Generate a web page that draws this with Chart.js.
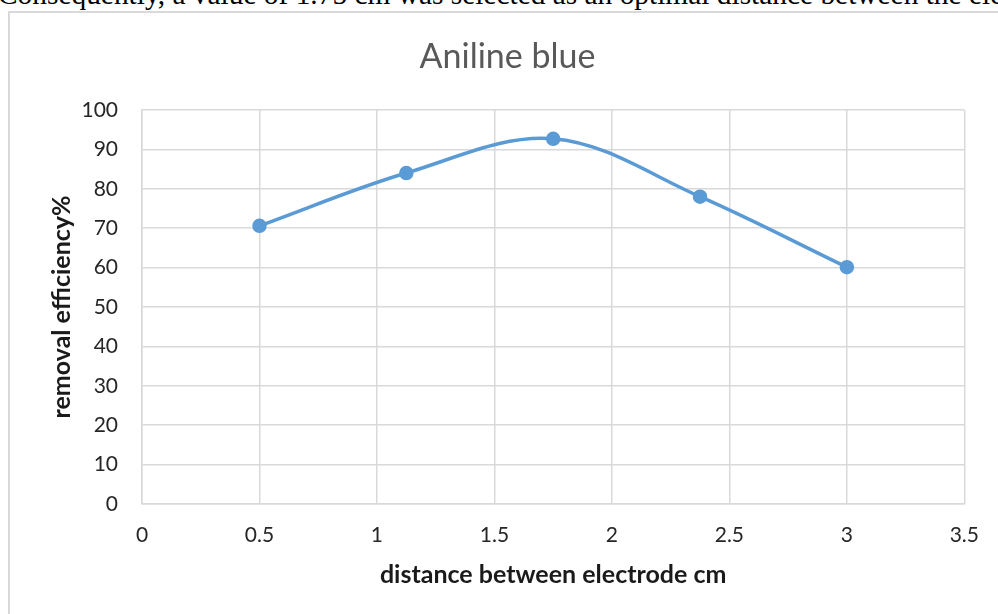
<!DOCTYPE html>
<html>
<head>
<meta charset="utf-8">
<script src="https://cdn.jsdelivr.net/npm/chart.js@4/dist/chart.umd.min.js"></script>
<style>
  html, body { margin: 0; padding: 0; background: #fff; overflow: hidden; }
  body { width: 998px; height: 614px; position: relative; }
  #para {
    position: absolute; left: -2px; top: -20px;
    font-family: "Liberation Serif", "Times New Roman", serif;
    font-size: 29.4px; line-height: 29px; color: #000;
    white-space: nowrap;
  }
  #frame {
    position: absolute; left: 8px; top: 11px; width: 1010px; height: 620px;
    border: 2px solid #d9d9d9; box-sizing: border-box;
  }
  #chart { position: absolute; left: 0; top: 0; }
</style>
</head>
<body>
<div id="para">Consequently, a value of 1.75 cm was selected as an optimal distance between the electrodes.</div>
<div id="frame"></div>
<canvas id="chart" width="998" height="614"></canvas>
<script>
// Electrode spacing (cm) against dye removal efficiency (%)
const distances = [0.5, 1.125, 1.75, 2.375, 3];
const removal = [70.6, 84.0, 92.7, 78.0, 60.1];

const xTickValues = [0, 0.5, 1, 1.5, 2, 2.5, 3, 3.5];
const xTickLabels = ['0', '0.5', '1', '1.5', '2', '2.5', '3', '3.5'];
const yTickValues = [0, 10, 20, 30, 40, 50, 60, 70, 80, 90, 100];
const yTickLabels = ['0', '10', '20', '30', '40', '50', '60', '70', '80', '90', '100'];

const chartTitle = 'Aniline blue';
const xTitle = 'distance between electrode cm';
const yTitle = 'removal efficiency%';

const points = distances.map((d, i) => ({ x: d, y: removal[i] }));
const gridColor = '#d9d9d9';
const fontFamily = 'Lato, "Open Sans", sans-serif';
const tickFont = { family: fontFamily, size: 21, lineHeight: 1.2 };
const axisTitleFont = { family: fontFamily, size: 25, weight: 'bold', lineHeight: 1.0 };

new Chart(document.getElementById('chart'), {
  type: 'scatter',
  data: {
    datasets: [{
      data: points,
      showLine: true,
      tension: 0.35,
      borderColor: '#5B9BD5',
      backgroundColor: '#5B9BD5',
      borderWidth: 3.5,
      pointRadius: 6.5,
      pointHoverRadius: 6.5,
      pointBorderWidth: 1.5,
      pointBackgroundColor: '#5B9BD5',
      pointBorderColor: '#5B9BD5'
    }]
  },
  options: {
    responsive: false,
    animation: false,
    devicePixelRatio: 1,
    layout: { padding: { left: 49, right: 32, top: 36.6, bottom: 0 } },
    plugins: {
      legend: { display: false },
      tooltip: { enabled: false },
      title: {
        display: true,
        text: chartTitle,
        color: '#595959',
        font: { family: fontFamily, size: 34, weight: 'normal', lineHeight: 1.2 },
        padding: { top: 0, bottom: 32.6 }
      }
    },
    scales: {
      x: {
        type: 'linear',
        min: 0,
        max: 3.5,
        afterBuildTicks: s => { s.ticks = xTickValues.map(v => ({ value: v })); },
        afterFit: s => { s.height = 110; },
        ticks: {
          color: '#262626',
          font: tickFont,
          padding: 19,
          maxRotation: 0,
          callback: (v) => xTickLabels[xTickValues.indexOf(v)]
        },
        grid: { color: gridColor, lineWidth: 1.5, drawTicks: false },
        border: { color: gridColor, width: 1.5 },
        title: {
          display: true,
          text: xTitle,
          color: '#1a1a1a',
          font: axisTitleFont,
          padding: { top: 0, bottom: 26.5 }
        }
      },
      y: {
        type: 'linear',
        min: 0,
        max: 100,
        afterBuildTicks: s => { s.ticks = yTickValues.map(v => ({ value: v })); },
        afterFit: s => { s.width = 93; },
        ticks: {
          color: '#262626',
          font: tickFont,
          padding: 24,
          callback: (v) => yTickLabels[yTickValues.indexOf(v)]
        },
        grid: { color: gridColor, lineWidth: 1.5, drawTicks: false },
        border: { color: gridColor, width: 1.5 },
        title: {
          display: true,
          text: yTitle,
          color: '#1a1a1a',
          font: axisTitleFont,
          padding: { top: 0, bottom: 0 }
        }
      }
    }
  }
});
</script>
</body>
</html>
